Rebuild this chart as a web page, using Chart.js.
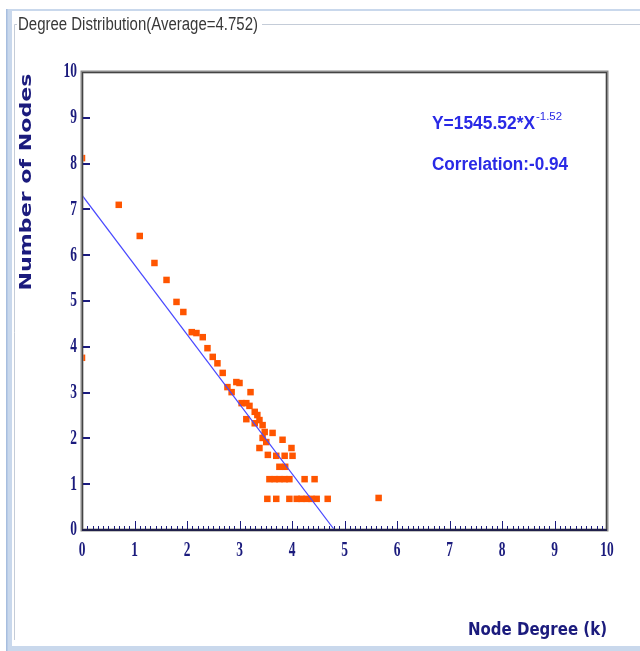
<!DOCTYPE html>
<html>
<head>
<meta charset="utf-8">
<script src="https://cdn.jsdelivr.net/npm/chart.js@4"></script>
<style>
  html, body { margin: 0; padding: 0; background: #fff; }
  canvas { display: block; }
</style>
</head>
<body>
<canvas id="degreeChart" width="640" height="651"></canvas>
<script>
// node degree (x) and number of nodes (y) for every point
const degree = [0, 0, 0.70, 1.10, 1.38, 1.61, 1.80, 1.93, 2.09, 2.18, 2.30, 2.39, 2.49, 2.58, 2.68,
  2.77, 2.85, 2.94, 3.00, 3.21, 3.04, 3.13, 3.19, 3.29, 3.34, 3.13, 3.38, 3.29, 3.44, 3.48,
  3.63, 3.44, 3.82, 3.51, 3.38, 3.99, 3.54, 3.70, 3.86, 4.01, 3.76, 3.87,
  3.57, 3.67, 3.76, 3.86, 3.95, 4.24, 4.43,
  3.53, 3.70, 3.95, 4.09, 4.18, 4.28, 4.37, 4.47, 4.68, 5.65];
const nodeCount = [8.12, 3.76, 7.10, 6.42, 5.83, 5.46, 4.98, 4.76, 4.32, 4.30, 4.21, 3.97, 3.78, 3.64, 3.43,
  3.12, 3.01, 3.23, 3.21, 3.01, 2.77, 2.77, 2.71, 2.58, 2.51, 2.42, 2.40, 2.33, 2.29, 2.14,
  2.12, 2.01, 1.97, 1.92, 1.79, 1.79, 1.64, 1.62, 1.62, 1.62, 1.38, 1.38,
  1.11, 1.11, 1.11, 1.11, 1.11, 1.11, 1.11,
  0.68, 0.68, 0.68, 0.68, 0.68, 0.68, 0.68, 0.68, 0.68, 0.70];

// fitted line end points
const fitX = [0, 4.81];
const fitY = [7.31, 0];

const xTickLabels = ['0', '1', '2', '3', '4', '5', '6', '7', '8', '9', '10'];
const yTickLabels = ['0', '1', '2', '3', '4', '5', '6', '7', '8', '9', '10'];

const boxTitle = 'Degree Distribution(Average=4.752)';
const xTitle = 'Node Degree (k)';
const yTitle = 'Number of Nodes';
const fitLabel = 'Y=1545.52*X';
const fitPower = '-1.52';
const corrLabel = 'Correlation:-0.94';

const navy = '#1b1b7d';
const pointColor = '#ff5500';
const lineColor = '#4848ff';

// draws text squeezed to a horizontal scale, or to a given width
function drawText(ctx, text, x, y, font, color, align, sx, width) {
  ctx.save();
  ctx.font = font;
  ctx.fillStyle = color;
  ctx.textAlign = 'left';
  ctx.textBaseline = 'middle';
  const raw = ctx.measureText(text).width;
  if (width) sx = width / raw;
  const w = raw * sx;
  let left = x;
  if (align === 'center') left = x - w / 2;
  if (align === 'right') left = x - w;
  ctx.translate(left, y);
  ctx.scale(sx, 1);
  ctx.fillText(text, 0, 0);
  ctx.restore();
  return w;
}

const framePlugin = {
  id: 'frame',
  beforeDraw(chart) {
    const ctx = chart.ctx;
    ctx.save();
    // outer window edges
    ctx.fillStyle = '#c9d8ec';
    ctx.fillRect(6, 9, 6, 642);
    ctx.fillRect(6, 9, 634, 2);
    ctx.fillRect(6, 646, 634, 5);
    ctx.fillStyle = '#a7bedf';
    ctx.fillRect(6, 9, 1.5, 642);
    // group box
    ctx.strokeStyle = '#c4ccd8';
    ctx.lineWidth = 1;
    ctx.beginPath();
    ctx.moveTo(14.5, 640);
    ctx.lineTo(14.5, 24.5);
    ctx.lineTo(17, 24.5);
    ctx.moveTo(262, 24.5);
    ctx.lineTo(640, 24.5);
    ctx.stroke();
    ctx.restore();
    drawText(ctx, boxTitle, 18, 25, '18px "Liberation Sans"', '#383838', 'left', 1, 240);
  },
  afterDatasetsDraw(chart) {
    const ctx = chart.ctx;
    const a = chart.chartArea;
    const xs = chart.scales.x;
    const ys = chart.scales.y;
    ctx.save();
    // plot border
    ctx.strokeStyle = '#8a8a8a';
    ctx.lineWidth = 3;
    ctx.strokeRect(a.left, a.top, a.right - a.left, a.bottom - a.top);
    ctx.strokeStyle = '#444';
    ctx.lineWidth = 1;
    ctx.strokeRect(a.left + 0.5, a.top + 0.5, a.right - a.left - 1, a.bottom - a.top - 1);
    ctx.strokeStyle = '#20204a';
    ctx.lineWidth = 2;
    ctx.beginPath();
    ctx.moveTo(a.left, a.bottom);
    ctx.lineTo(a.right, a.bottom);
    ctx.stroke();
    // x ticks, major and minor, pointing in
    ctx.strokeStyle = navy;
    ctx.lineWidth = 1;
    ctx.beginPath();
    for (let i = 1; i < 100; i++) {
      const px = Math.round(xs.getPixelForValue(i / 10)) + 0.5;
      const len = i % 10 === 0 ? 8 : 3;
      ctx.moveTo(px, a.bottom - 1);
      ctx.lineTo(px, a.bottom - 1 - len);
    }
    ctx.stroke();
    // y ticks, pointing in
    ctx.lineWidth = 2;
    ctx.beginPath();
    for (let i = 1; i < yTickLabels.length - 1; i++) {
      const py = Math.round(ys.getPixelForValue(Number(yTickLabels[i])));
      ctx.moveTo(a.left + 1, py);
      ctx.lineTo(a.left + 8, py);
    }
    ctx.stroke();
    ctx.restore();
  },
  afterDraw(chart) {
    const ctx = chart.ctx;
    const a = chart.chartArea;
    const xs = chart.scales.x;
    const ys = chart.scales.y;
    const tickFont = 'bold 21px "Liberation Serif"';
    xTickLabels.forEach(t => {
      drawText(ctx, t, xs.getPixelForValue(Number(t)), a.bottom + 21, tickFont, navy, 'center', 0.64);
    });
    yTickLabels.forEach(t => {
      drawText(ctx, t, a.left - 5, ys.getPixelForValue(Number(t)), tickFont, navy, 'right', 0.64);
    });
    // axis titles
    drawText(ctx, xTitle, 607, 631, 'bold 17px "DejaVu Sans"', navy, 'right', 1, 139);
    ctx.save();
    ctx.translate(27, 182);
    ctx.rotate(-Math.PI / 2);
    drawText(ctx, yTitle, 0, 0, 'bold 16px "DejaVu Sans"', navy, 'center', 1, 217);
    ctx.restore();
    // fit annotation
    const blue = '#2a2ae6';
    const w = drawText(ctx, fitLabel, 432, 124, 'bold 18px "Liberation Sans"', blue, 'left', 1, 103);
    drawText(ctx, fitPower, 432 + w + 1, 117, '11px "Liberation Sans"', blue, 'left', 1, 26);
    drawText(ctx, corrLabel, 432, 165, 'bold 18px "Liberation Sans"', blue, 'left', 1, 136);
  }
};

const points = degree.map((d, i) => ({ x: d, y: nodeCount[i] }));
const fitLine = fitX.map((d, i) => ({ x: d, y: fitY[i] }));

new Chart(document.getElementById('degreeChart').getContext('2d'), {
  type: 'scatter',
  data: {
    datasets: [{
      label: 'fit',
      data: fitLine,
      showLine: true,
      borderColor: lineColor,
      borderWidth: 1.2,
      pointRadius: 0,
      order: 0,
      clip: 0
    }, {
      label: 'nodes',
      data: points,
      pointStyle: 'rect',
      pointRadius: 4.6,
      pointBorderWidth: 0,
      pointBackgroundColor: pointColor,
      order: 1,
      clip: 0
    }]
  },
  options: {
    responsive: false,
    animation: false,
    layout: { padding: { top: 72, right: 33, left: 0, bottom: 0 } },
    plugins: {
      legend: { display: false },
      tooltip: { enabled: false }
    },
    scales: {
      x: {
        type: 'linear', min: 0, max: 10,
        grid: { display: false },
        border: { display: false },
        ticks: { display: false, stepSize: 1 },
        afterFit(scale) { scale.height = 121; }
      },
      y: {
        type: 'linear', min: 0, max: 10,
        grid: { display: false },
        border: { display: false },
        ticks: { display: false, stepSize: 1 },
        afterFit(scale) { scale.width = 82; }
      }
    }
  },
  plugins: [framePlugin]
});
</script>
</body>
</html>
